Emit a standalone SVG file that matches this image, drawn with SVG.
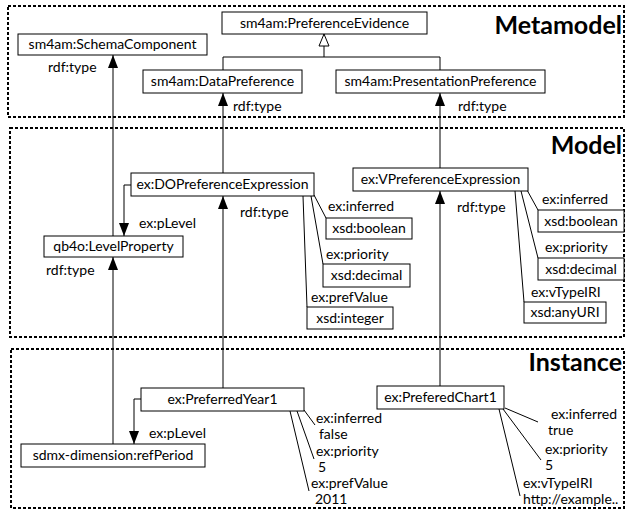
<svg xmlns="http://www.w3.org/2000/svg" width="628" height="511" viewBox="0 0 628 511">
<defs>
<marker id="arr" markerUnits="userSpaceOnUse" markerWidth="14" markerHeight="12" refX="13" refY="5" orient="auto">
<path d="M0,0 L13,5 L0,10 z" fill="#000"/>
</marker>
<marker id="inh" markerUnits="userSpaceOnUse" markerWidth="15" markerHeight="14" refX="13" refY="6" orient="auto">
<path d="M1,1 L13,6 L1,11 z" fill="#fff" stroke="#000" stroke-width="1"/>
</marker>
</defs>
<style>
.sec{fill:none;stroke:#000;stroke-width:2;stroke-dasharray:3 2}
.box{fill:#fff;stroke:#000;stroke-width:1}
.t{font-family:Lato,"Liberation Sans",sans-serif;font-size:14px;fill:#000}
.c{text-anchor:middle}
.h{font-family:Lato,"Liberation Sans",sans-serif;font-size:25px;font-weight:bold;text-anchor:end;fill:#000}
.ln{fill:none;stroke:#000;stroke-width:1}
</style>
<rect width="628" height="511" fill="#fff"/>
<g id="sections">
<rect class="sec" x="8" y="6" width="616" height="111"/>
<rect class="sec" x="10" y="128" width="614" height="209"/>
<rect class="sec" x="11" y="349" width="613" height="159"/>
<text class="h" x="622" y="34">Metamodel</text>
<text class="h" x="622" y="154">Model</text>
<text class="h" x="622" y="371">Instance</text>
</g>
<g id="connectors">
<line class="ln" x1="113" y1="236" x2="113" y2="55" marker-end="url(#arr)"/>
<line class="ln" x1="223" y1="173" x2="223" y2="93" marker-end="url(#arr)"/>
<line class="ln" x1="440" y1="168" x2="440" y2="93" marker-end="url(#arr)"/>
<path class="ln" d="M223,70 V57 H440 V70"/>
<line class="ln" x1="324" y1="57" x2="324" y2="34" marker-end="url(#inh)"/>
<path class="ln" d="M131,185 H124 V236" marker-end="url(#arr)"/>
<line class="ln" x1="223" y1="388" x2="223" y2="196" marker-end="url(#arr)"/>
<line class="ln" x1="440" y1="386" x2="440" y2="191" marker-end="url(#arr)"/>
<line class="ln" x1="113" y1="444" x2="113" y2="257" marker-end="url(#arr)"/>
<path class="ln" d="M141,399 H134 V444" marker-end="url(#arr)"/>
<line class="ln" x1="314" y1="195" x2="326" y2="218"/>
<line class="ln" x1="311" y1="196" x2="323" y2="264"/>
<line class="ln" x1="303" y1="196" x2="307" y2="307"/>
<line class="ln" x1="527" y1="190" x2="538" y2="210"/>
<line class="ln" x1="521" y1="191" x2="538" y2="258"/>
<line class="ln" x1="515" y1="191" x2="524" y2="302"/>
<line class="ln" x1="304" y1="410" x2="315" y2="425"/>
<line class="ln" x1="297" y1="411" x2="314" y2="459"/>
<line class="ln" x1="290" y1="411" x2="309" y2="491"/>
<line class="ln" x1="505" y1="408" x2="538" y2="422"/>
<line class="ln" x1="503" y1="409" x2="541" y2="460"/>
<line class="ln" x1="499" y1="409" x2="520" y2="496"/>
</g>
<g id="labels">
<text class="t" x="48" y="72">rdf:type</text>
<text class="t" x="233" y="111">rdf:type</text>
<text class="t" x="458" y="111">rdf:type</text>
<text class="t" x="240" y="217">rdf:type</text>
<text class="t" x="46" y="275">rdf:type</text>
<text class="t" x="457" y="212">rdf:type</text>
<text class="t" x="139" y="228">ex:pLevel</text>
<text class="t" x="149" y="438">ex:pLevel</text>
<text class="t" x="328" y="211">ex:inferred</text>
<text class="t" x="326" y="259">ex:priority</text>
<text class="t" x="311" y="302">ex:prefValue</text>
<text class="t" x="542" y="204">ex:inferred</text>
<text class="t" x="545" y="252">ex:priority</text>
<text class="t" x="531" y="297">ex:vTypeIRI</text>
<text class="t" x="316" y="423">ex:inferred</text>
<text class="t" x="319" y="439">false</text>
<text class="t" x="316" y="456">ex:priority</text>
<text class="t" x="318" y="472">5</text>
<text class="t" x="311" y="488">ex:prefValue</text>
<text class="t" x="315" y="504">2011</text>
<text class="t" x="551" y="419">ex:inferred</text>
<text class="t" x="548" y="435">true</text>
<text class="t" x="545" y="454">ex:priority</text>
<text class="t" x="545" y="470">5</text>
<text class="t" x="523" y="488">ex:vTypeIRI</text>
<text class="t" x="523" y="504">http://example..</text>
</g>
<g id="n-prefevidence"><rect class="box" x="222" y="12" width="205" height="22"/><text class="t c" x="324.5" y="28">sm4am:PreferenceEvidence</text></g>
<g id="n-schemacomponent"><rect class="box" x="18" y="34" width="189" height="21"/><text class="t c" x="112.5" y="49">sm4am:SchemaComponent</text></g>
<g id="n-datapref"><rect class="box" x="143" y="70" width="159" height="23"/><text class="t c" x="222.5" y="86">sm4am:DataPreference</text></g>
<g id="n-presentationpref"><rect class="box" x="336" y="70" width="209" height="23"/><text class="t c" x="440.5" y="86">sm4am:PresentationPreference</text></g>
<g id="n-doprefexpr"><rect class="box" x="131" y="173" width="183" height="23"/><text class="t c" x="222.5" y="189">ex:DOPreferenceExpression</text></g>
<g id="n-vprefexpr"><rect class="box" x="353" y="168" width="175" height="23"/><text class="t c" x="440.5" y="184">ex:VPreferenceExpression</text></g>
<g id="n-levelprop"><rect class="box" x="44" y="236" width="139" height="21"/><text class="t c" x="113.5" y="251">qb4o:LevelProperty</text></g>
<g id="n-bool1"><rect class="box" x="326" y="218" width="86" height="21"/><text class="t c" x="369" y="233">xsd:boolean</text></g>
<g id="n-dec1"><rect class="box" x="323" y="264" width="87" height="23"/><text class="t c" x="366.5" y="280">xsd:decimal</text></g>
<g id="n-int1"><rect class="box" x="307" y="307" width="86" height="22"/><text class="t c" x="350" y="323">xsd:integer</text></g>
<g id="n-bool2"><rect class="box" x="538" y="210" width="86" height="22"/><text class="t c" x="581" y="226">xsd:boolean</text></g>
<g id="n-dec2"><rect class="box" x="538" y="258" width="86" height="22"/><text class="t c" x="581" y="274">xsd:decimal</text></g>
<g id="n-anyuri"><rect class="box" x="524" y="302" width="82" height="21"/><text class="t c" x="565" y="317">xsd:anyURI</text></g>
<g id="n-prefyear"><rect class="box" x="141" y="388" width="163" height="23"/><text class="t c" x="222.5" y="404">ex:PreferredYear1</text></g>
<g id="n-prefchart"><rect class="box" x="377" y="386" width="127" height="23"/><text class="t c" x="440.5" y="402">ex:PreferedChart1</text></g>
<g id="n-refperiod"><rect class="box" x="21" y="444" width="184" height="23"/><text class="t c" x="113" y="460">sdmx-dimension:refPeriod</text></g>
</svg>
